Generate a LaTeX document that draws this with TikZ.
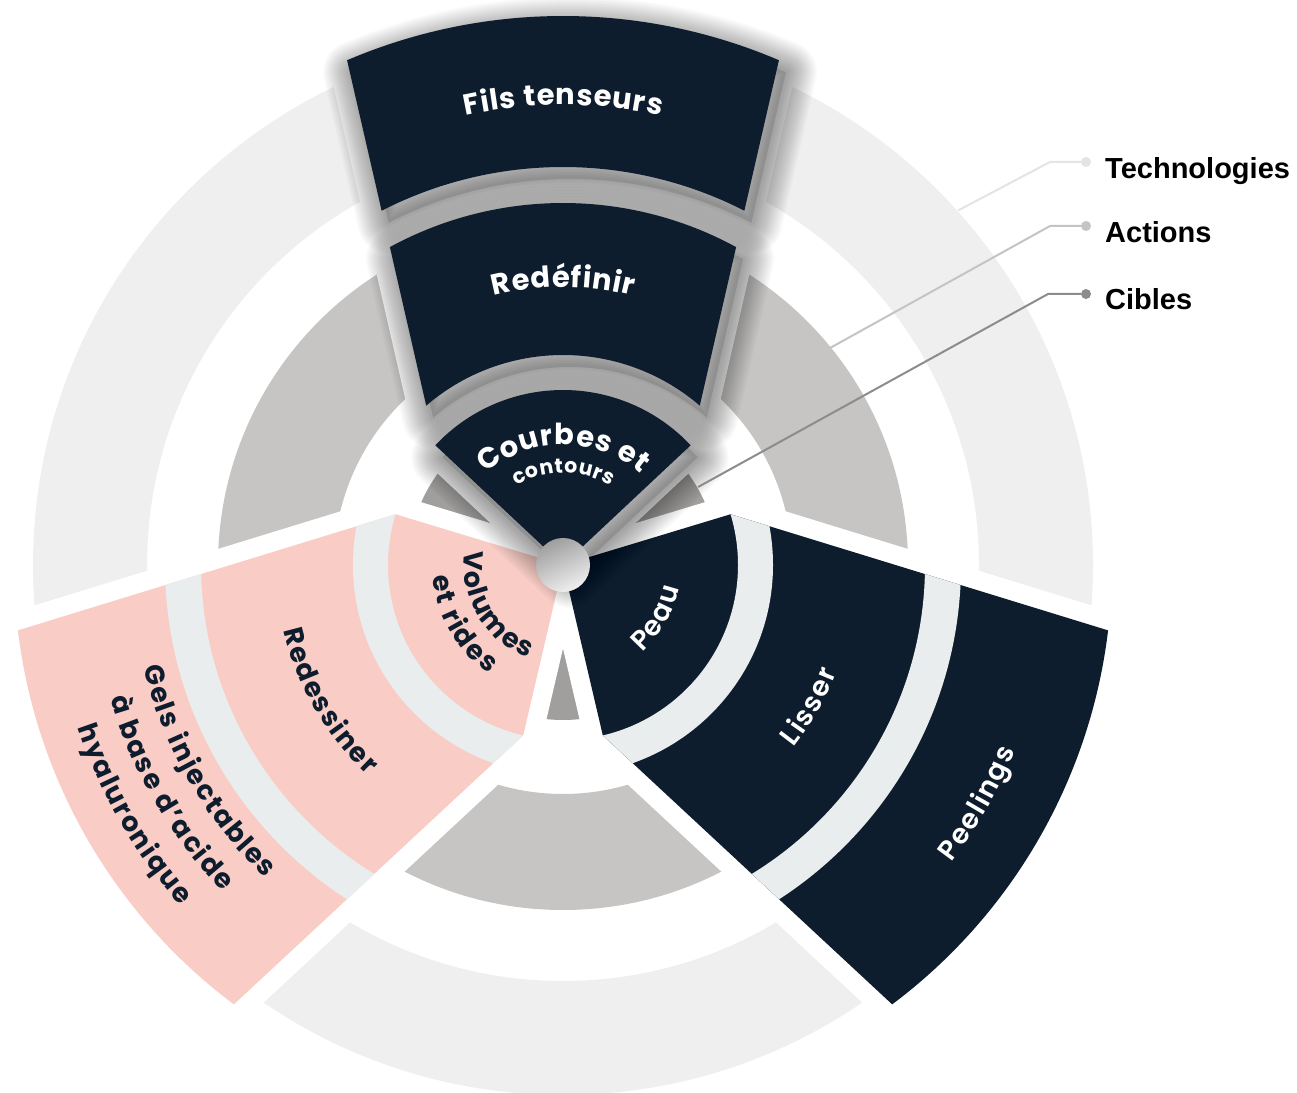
\documentclass[tikz,border=0pt]{standalone}
\usepackage{fontspec}
\setmainfont{Poppins}
\IfFontExistsTF{Poppins SemiBold}{\newfontfamily\semifont{Poppins SemiBold}}{\newfontfamily\semifont{Poppins}}
\newfontfamily\legendfont{Liberation Sans}
\usetikzlibrary{decorations.text}

\definecolor{navy}{HTML}{0E1D2D}
\definecolor{pinkc}{HTML}{F9CDC6}
\definecolor{bandc}{HTML}{E9EDEE}
\definecolor{techc}{HTML}{EFEFEF}
\definecolor{actc}{HTML}{C6C5C4}
\definecolor{cibc}{HTML}{A09F9E}
\definecolor{techline}{HTML}{E4E4E4}
\definecolor{actline}{HTML}{C4C4C4}
\definecolor{cibline}{HTML}{8C8C8C}

\newcommand{\topfont}{\fontsize{29}{29}\selectfont\bfseries\kern0.8pt}
\newcommand{\pinkfont}{\fontsize{27}{27}\selectfont\bfseries\kern1.8pt}
\newcommand{\navyfont}{\fontsize{27.5}{27.5}\selectfont\semifont\kern1.6pt}
\newcommand{\smallfont}{\fontsize{20.5}{20.5}\selectfont\bfseries\kern0.6pt}

\newcommand{\pathCourbes}{(0,0) -- (43.15:175) arc[start angle=43.15, end angle=136.85, radius=175] -- cycle}
\newcommand{\pathRedef}{(49.35:210) -- (61.43:362) arc[start angle=61.43, end angle=118.57, radius=362] -- (130.65:210) arc[start angle=130.65, end angle=49.35, radius=210] -- cycle}
\newcommand{\pathFils}{(62.89:398) -- (66.84:549) arc[start angle=66.84, end angle=113.16, radius=549] -- (117.11:398) arc[start angle=117.11, end angle=62.89, radius=398] -- cycle}
\newcommand{\pathTopAll}{(0,0) -- (43.15:175) -- (66.84:549) arc[start angle=66.84, end angle=113.16, radius=549] -- (136.85:175) -- cycle}
\newcommand{\pathPink}{(0,0) -- (163.15:175) -- (186.84:549) arc[start angle=186.84, end angle=233.16, radius=549] -- (256.85:175) -- cycle}
\newcommand{\pathNavy}{(0,0) -- (283.15:175) -- (306.84:549) arc[start angle=306.84, end angle=353.16, radius=549] -- (16.85:175) -- cycle}

\tikzset{
  curvedw/.style={decorate, decoration={text along path, text align=center, text color=white, text={#1}}},
  curvedn/.style={decorate, decoration={text along path, text align=center, text color=navy, text={#1}}},
  gapshape/.style={fill=white, draw=white, line width=38, line join=miter},
  shadowlayer/.style={draw=black, opacity=0.018, line width=#1, line join=round},
  shadowfill/.style={fill=black, opacity=0.12},
  legendtext/.style={anchor=base west, font=\legendfont\bfseries\fontsize{29}{29}\selectfont, text=black, inner sep=0pt},
  legenddot/.style={circle, fill=#1, inner sep=0pt, minimum size=10pt},
  legendline/.style={draw=#1, line width=2pt},
}

\begin{document}
\begin{tikzpicture}[x=1pt,y=1pt]
\useasboundingbox (0,0) rectangle (1297,1092);
\fill[white] (0,0) rectangle (1297,1092);
\coordinate (C) at (563,527);
\begin{scope}[shift={(563,527)}]
  % background rings
  \fill[techc, even odd rule] (0,0) circle (530) (0,0) circle (416);
  \fill[actc, even odd rule] (0,0) circle (345) (0,0) circle (229);
  \fill[cibc] (0,0) circle (155);
  % white gaps around the three groups
  \path[gapshape] \pathTopAll;
  \path[gapshape] \pathPink;
  \path[gapshape] \pathNavy;
  % pink group
  \fill[pinkc] \pathPink;
  \begin{scope}
    \clip \pathPink;
    \fill[bandc, even odd rule] (0,0) circle (210) (0,0) circle (175) (0,0) circle (398) (0,0) circle (362);
  \end{scope}
  % navy group
  \fill[navy] \pathNavy;
  \begin{scope}
    \clip \pathNavy;
    \fill[bandc, even odd rule] (0,0) circle (210) (0,0) circle (175) (0,0) circle (398) (0,0) circle (362);
  \end{scope}
  % soft shadows of the raised top group
  \begin{scope}[shift={(7,-12)}]
    \foreach \w in {62,59,56,53,50,47,44,41,38,35,32,29,26,23,20,17,14,11,8,5}{
      \draw[shadowlayer=\w] \pathFils;
      \draw[shadowlayer=\w] \pathRedef;
      \draw[shadowlayer=\w] \pathCourbes;
    }
    \path[shadowfill] \pathFils;
    \path[shadowfill] \pathRedef;
    \path[shadowfill] \pathCourbes;
  \end{scope}
  % top group pieces
  \fill[navy] \pathFils;
  \fill[navy] \pathRedef;
  \fill[navy] \pathCourbes;
  % centre disc
  \shade[top color=black!38, bottom color=black!6, shading angle=25] (0,0) circle (27);
  % labels
  \path[curvedw={|\topfont|Fils tenseurs}] (125:460) arc[start angle=125, end angle=55, radius=460];
  \path[curvedw={|\topfont|Redéfinir}] (135:278) arc[start angle=135, end angle=45, radius=278];
  \path[curvedw={|\topfont|Courbes et}] (160:120) arc[start angle=160, end angle=20, radius=120];
  \path[curvedw={|\smallfont|contours}] (160:92) arc[start angle=160, end angle=20, radius=92];
  \path[curvedn={|\pinkfont|Volumes}] (120:99) arc[start angle=120, end angle=300, radius=99];
  \path[curvedn={|\pinkfont|et rides}] (130:131) arc[start angle=130, end angle=290, radius=131];
  \path[curvedn={|\pinkfont|Redessiner}] (150:287) arc[start angle=150, end angle=270, radius=287];
  \path[curvedn={|\pinkfont|Gels injectables}] (160:432) arc[start angle=160, end angle=260, radius=432];
  \path[curvedn={|\pinkfont|à base d’acide}] (160:472) arc[start angle=160, end angle=260, radius=472];
  \path[curvedn={|\pinkfont|hyaluronique}] (160:512) arc[start angle=160, end angle=260, radius=512];
  \path[curvedw={|\navyfont|Peau}] (250:118) arc[start angle=250, end angle=410, radius=118];
  \path[curvedw={|\navyfont|Lisser}] (270:294) arc[start angle=270, end angle=390, radius=294];
  \path[curvedw={|\navyfont|Peelings}] (280:489) arc[start angle=280, end angle=380, radius=489];
  % leader end points on the rings
  \coordinate (rTech) at (41.9:531);
  \coordinate (rAct) at (39.1:344);
  \coordinate (rCib) at (30:156);
\end{scope}
% legend
\node[legendtext] (tTech) at (1105,913) {Technologies};
\node[legendtext] (tAct) at (1105,849) {Actions};
\node[legendtext] (tCib) at (1105,782) {Cibles};
\node[legenddot=techline] (dTech) at (1086,930) {};
\node[legenddot=actline] (dAct) at (1086,866) {};
\node[legenddot=cibline] (dCib) at (1086,798) {};
\coordinate (eTech) at (1050,930);
\coordinate (eAct) at (1050,866);
\coordinate (eCib) at (1048,798);
\draw[legendline=techline] (rTech) -- (eTech) -- (dTech);
\draw[legendline=actline] (rAct) -- (eAct) -- (dAct);
\draw[legendline=cibline] (rCib) -- (eCib) -- (dCib);
\end{tikzpicture}
\end{document}
